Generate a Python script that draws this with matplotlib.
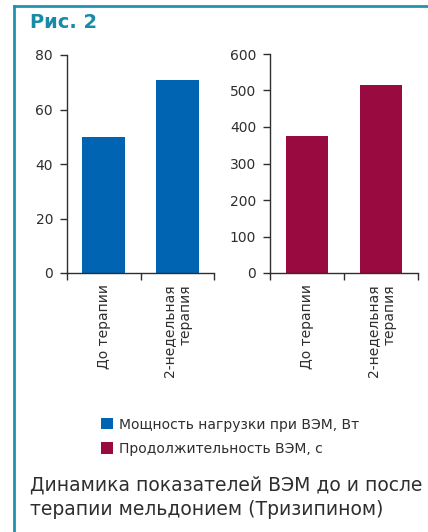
import matplotlib
matplotlib.use("Agg")
import matplotlib.pyplot as plt
from matplotlib.patches import Patch
from matplotlib.lines import Line2D

# данные
categories = ["До терапии", "2-недельная\nтерапия"]
power_values = [50, 71]        # Мощность нагрузки при ВЭМ, Вт
duration_values = [375, 515]   # Продолжительность ВЭМ, с
series_names = ["Мощность нагрузки при ВЭМ, Вт", "Продолжительность ВЭМ, с"]
left_ticks = [0, 20, 40, 60, 80]
right_ticks = [0, 100, 200, 300, 400, 500, 600]

blue = "#0064b3"
crimson = "#990a40"
teal = "#1f93b0"
title_col = "#1a8aa6"
ink = "#2e2e2e"

plt.rcParams["font.family"] = ["DejaVu Sans"]

W, H = 428, 532
fig = plt.figure(figsize=(W / 100, H / 100), dpi=100, facecolor="white")


def px(x0, y0, x1, y1):
    # пиксели -> доли фигуры (y0 - нижний край)
    return [x0 / W, 1 - y0 / H, (x1 - x0) / W, (y0 - y1) / H]


def style_axes(ax, values, color, ticks):
    x = list(range(len(values)))
    ax.bar(x, values, width=0.58, color=color, zorder=2)
    ax.set_xlim(-0.5, len(values) - 0.5)
    ax.set_ylim(ticks[0], ticks[-1])
    ax.set_yticks(ticks)
    ax.set_xticks([i - 0.5 for i in range(len(values) + 1)])
    ax.set_xticklabels([])
    ax.set_xticks(x, categories, minor=True)
    for s in ["top", "right"]:
        ax.spines[s].set_visible(False)
    for s in ["left", "bottom"]:
        ax.spines[s].set_color(ink)
        ax.spines[s].set_linewidth(1.0)
    ax.tick_params(axis="y", length=5, width=1, color=ink, labelcolor=ink,
                   labelsize=10, pad=5)
    ax.tick_params(axis="x", which="major", length=5, width=1, color=ink)
    ax.tick_params(axis="x", which="minor", length=0, labelsize=10,
                   labelcolor=ink, rotation=90, pad=8)
    for lbl in ax.get_xticklabels(minor=True):
        lbl.set_multialignment("right")
        lbl.set_linespacing(1.25)


ax1 = fig.add_axes(px(67, 273, 214, 55))
style_axes(ax1, power_values, blue, left_ticks)

ax2 = fig.add_axes(px(270, 273, 418, 54))
style_axes(ax2, duration_values, crimson, right_ticks)

# рамка
fig.add_artist(Line2D([14 / W, 14 / W], [0, 1 - 6 / H], color=teal, lw=2,
                      transform=fig.transFigure))
fig.add_artist(Line2D([14 / W, 1], [1 - 6 / H, 1 - 6 / H], color=teal, lw=2,
                      transform=fig.transFigure))

fig.text(30 / W, 1 - 22 / H, "Рис. 2", fontsize=14, fontweight="bold",
         color=title_col, va="center", ha="left")

handles = [Patch(facecolor=blue), Patch(facecolor=crimson)]
fig.legend(handles, series_names, loc="upper left",
           bbox_to_anchor=(88 / W, 1 - 405 / H), frameon=False, fontsize=10,
           handlelength=0.9, handleheight=0.9, handletextpad=0.4,
           labelspacing=0.75, labelcolor=ink)

fig.text(30 / W, 1 - 475 / H,
         "Динамика показателей ВЭМ до и после\nтерапии мельдонием (Тризипином)",
         fontsize=13.5, color=ink, va="top", ha="left", linespacing=1.4)

fig.savefig("out.png", dpi=100, facecolor="white")
